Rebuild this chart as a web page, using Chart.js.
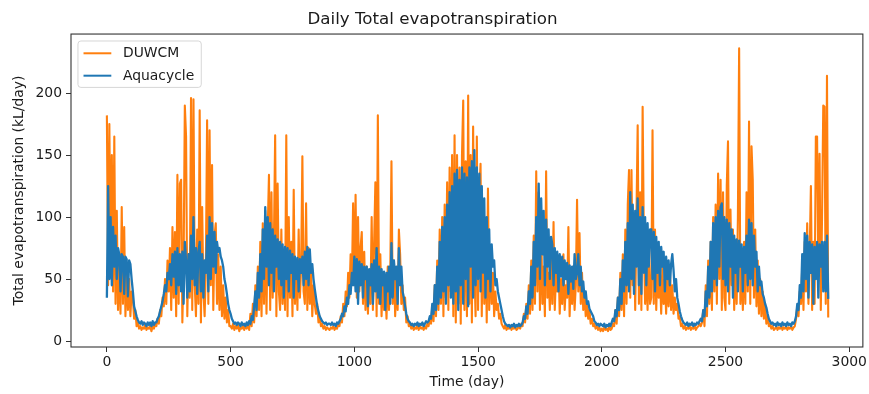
<!DOCTYPE html>
<html><head><meta charset="utf-8">
<script src="https://cdn.jsdelivr.net/npm/chart.js@4"></script>
<style>html,body{margin:0;padding:0;background:#fff;}canvas{display:block;}</style>
</head><body>
<canvas id="c" width="869" height="394"></canvas>
<script>
// ---- data (one value every STEP_DAYS days) ----
const STEP_DAYS = 5;
const SERIES_NAMES = ['DUWCM', 'Aquacycle'];
const DUWCM = [
182,45,175,60,150,40,165,30,105,25,70,22,108,30,92,20,60,25,50,20,
40,35,18,25,12,15,10,12,9,11,10,13,9,11,10,12,8,12,10,14,
12,18,14,25,20,35,28,50,30,65,40,75,25,92,35,88,20,134,30,127,
130,15,60,190,165,20,70,35,196,25,195,45,20,90,30,186,15,108,40,20,
60,178,30,170,45,142,25,85,95,30,70,25,60,20,45,18,35,15,25,12,
12,10,14,9,12,10,13,8,11,10,13,9,12,10,14,9,22,12,30,15,
45,20,60,25,80,20,95,30,105,22,90,134,25,120,35,80,166,20,127,40,
25,90,30,70,25,166,20,100,35,80,20,122,30,65,25,90,35,60,149,40,
30,111,25,75,30,60,20,45,30,22,30,15,20,12,14,10,12,9,11,10,
9,11,10,12,9,11,10,14,12,20,15,30,20,40,28,55,35,70,45,111,
45,118,35,100,40,75,88,30,72,25,60,22,55,30,100,25,80,128,20,182,
30,70,20,55,25,45,18,60,25,50,145,30,65,20,50,25,90,70,30,45,
25,35,15,20,12,14,10,12,9,11,10,13,9,12,10,11,9,12,10,14,
12,18,14,28,16,45,20,65,25,90,30,100,20,110,35,128,25,140,40,150,
20,166,15,150,30,140,14,150,194,25,145,20,198,30,150,15,173,60,20,165,
25,120,143,20,110,30,95,15,123,25,75,30,55,20,40,25,30,18,22,14,
12,10,13,9,11,10,12,9,11,10,12,9,10,12,10,14,12,22,15,30,
18,45,22,65,25,85,30,137,40,120,25,95,30,60,20,137,35,55,25,70,
30,96,25,55,40,65,22,50,30,70,25,45,35,92,20,55,30,60,25,45,
114,40,87,30,55,25,40,20,30,18,25,14,18,12,14,10,12,9,11,8,
10,8,11,9,10,8,12,9,10,14,12,25,14,35,20,55,25,70,20,90,
30,110,138,35,138,45,90,25,100,174,30,120,25,189,80,30,60,25,70,30,
35,170,30,90,25,60,35,55,22,60,30,50,22,55,28,60,25,45,22,35,
25,30,18,20,12,14,10,12,9,11,10,12,9,11,10,13,9,11,12,14,
12,15,25,12,45,20,65,30,80,25,100,40,110,30,135,50,130,25,120,35,
25,125,161,30,106,45,90,25,70,30,100,236,30,60,25,80,30,120,40,177,
30,157,130,35,90,28,65,22,50,20,40,18,30,14,20,12,14,10,12,9,
10,12,9,11,10,13,9,11,10,12,9,11,10,12,9,11,12,18,28,20,
40,30,60,25,80,40,95,30,70,125,25,80,30,165,165,60,151,25,100,190,
189,30,214,19
];
const AQUACYCLE = [
35,125,50,100,45,92,60,85,50,75,70,40,70,68,38,68,66,36,65,62,
50,40,28,24,20,17,15,14,16,13,15,14,12,15,13,15,12,16,13,15,
15,18,20,24,28,32,38,45,40,55,50,62,45,70,52,72,38,75,45,70,
40,72,30,80,65,35,70,40,85,50,100,45,75,38,72,80,40,70,35,65,
55,85,40,100,50,95,60,88,55,80,72,75,68,65,60,50,45,38,30,25,
22,18,16,14,15,13,15,14,12,15,13,14,12,15,13,16,14,20,17,28,
40,25,55,35,70,40,90,50,108,60,100,45,95,55,90,40,85,60,82,50,
80,45,78,35,76,50,75,40,73,55,70,35,68,50,67,40,66,55,68,45,
72,50,76,45,74,55,62,50,42,35,28,24,20,18,16,15,14,15,13,14,
14,13,15,13,14,12,15,14,16,18,22,20,28,24,35,30,45,38,55,45,
68,40,66,30,64,45,62,35,60,50,60,28,58,45,62,30,65,40,75,35,
60,30,58,45,56,25,55,40,60,30,79,35,65,50,60,30,75,45,60,40,
35,28,22,18,16,15,13,14,12,14,13,15,12,14,13,15,12,14,16,15,
16,20,18,30,22,45,25,60,30,80,35,92,40,100,30,110,45,120,35,125,
30,135,40,138,25,130,45,140,30,135,50,132,28,140,60,145,35,154,45,140,
50,135,40,125,55,115,35,100,50,90,40,78,60,65,45,50,40,35,30,25,
20,16,14,13,12,13,11,13,12,14,11,13,12,14,12,13,15,20,18,28,
22,40,30,60,35,80,45,100,60,127,50,115,70,105,45,98,60,90,50,84,
78,45,75,55,72,40,70,52,68,45,65,50,63,38,61,48,60,42,70,50,
55,70,45,60,40,48,35,40,30,32,26,24,22,20,16,15,13,14,12,14,
13,12,14,11,13,12,14,12,15,18,16,25,20,35,25,50,30,65,40,80,
45,95,40,120,50,110,38,105,60,115,45,100,38,108,55,100,45,95,60,90,
90,50,88,40,84,55,80,45,76,60,72,40,68,50,65,45,62,70,57,40,
50,35,30,24,20,17,15,14,13,15,12,14,13,15,12,14,13,15,14,16,
18,16,25,20,40,28,60,35,80,40,95,50,100,45,105,60,108,111,50,100,
45,98,40,95,60,90,35,85,55,82,40,81,60,78,40,76,55,85,45,98,
50,95,45,85,60,72,40,60,45,48,38,35,30,27,22,18,16,14,15,13,
14,12,15,13,14,12,15,13,14,12,15,13,14,12,15,14,16,20,30,25,
45,35,70,40,87,50,85,35,80,55,78,30,76,50,80,35,78,60,80,40,
80,40,85,34
];
const X_TICKS = [0, 500, 1000, 1500, 2000, 2500, 3000];
const Y_TICKS = [0, 50, 100, 150, 200];
const X_RANGE = [-145, 3055];
const Y_RANGE = [-4.8, 247.6];
const COLORS = {DUWCM: '#ff7f0e', Aquacycle: '#1f77b4'};

// ---- chart ----
const FONT = 'DejaVu Sans';
const TEXT = '#1a1a1a';
const toPoints = vals => vals.map((v, i) => ({x: i * STEP_DAYS, y: v}));

const framePlugin = {
  id: 'frame',
  afterDraw(chart) {
    const {ctx, chartArea: a} = chart;
    ctx.save();
    ctx.strokeStyle = '#333';
    ctx.lineWidth = 1.1;
    ctx.strokeRect(a.left, a.top, a.right - a.left, a.bottom - a.top);
    ctx.restore();
  }
};

const legendPlugin = {
  id: 'mplLegend',
  afterDraw(chart) {
    const {ctx, chartArea: a} = chart;
    const fs = 13.9;
    ctx.save();
    ctx.font = fs + 'px "' + FONT + '"';
    const items = SERIES_NAMES.map(n => ({name: n, color: COLORS[n]}));
    const tw = Math.max(...items.map(it => ctx.measureText(it.name).width));
    const pad = 0.4 * fs, handle = 2 * fs, gap = 0.8 * fs, rowH = 22.4;
    const x0 = a.left + 0.5 * fs, y0 = a.top + 0.5 * fs;
    const w = pad + handle + gap + tw + pad + 2;
    const h = pad * 2 + rowH * items.length - 9.5;
    ctx.beginPath();
    if (ctx.roundRect) ctx.roundRect(x0, y0, w, h, 3); else ctx.rect(x0, y0, w, h);
    ctx.fillStyle = 'rgba(255,255,255,0.8)';
    ctx.fill();
    ctx.strokeStyle = 'rgba(204,204,204,0.8)';
    ctx.lineWidth = 1;
    ctx.stroke();
    items.forEach((it, i) => {
      const cy = y0 + 12.3 + i * rowH;
      ctx.beginPath();
      ctx.moveTo(x0 + pad, cy);
      ctx.lineTo(x0 + pad + handle, cy);
      ctx.strokeStyle = it.color;
      ctx.lineWidth = 2;
      ctx.stroke();
      ctx.fillStyle = TEXT;
      ctx.textBaseline = 'middle';
      ctx.textAlign = 'left';
      ctx.fillText(it.name, x0 + pad + handle + gap + 0.5, cy + 0.5);
    });
    ctx.restore();
  }
};

const tickFont = {family: FONT, size: 13.9};
new Chart(document.getElementById('c'), {
  type: 'line',
  data: {
    datasets: [
      {label: 'Aquacycle', data: toPoints(AQUACYCLE), borderColor: COLORS.Aquacycle,
       borderWidth: 2.3, pointRadius: 0, tension: 0, borderJoinStyle: 'round', fill: false},
      {label: 'DUWCM', data: toPoints(DUWCM), borderColor: COLORS.DUWCM,
       borderWidth: 2.1, pointRadius: 0, tension: 0, borderJoinStyle: 'round', fill: false}
    ]
  },
  options: {
    responsive: false,
    devicePixelRatio: 1,
    animation: false,
    events: [],
    layout: {padding: {left: 0, right: 4, top: 0, bottom: 0}},
    plugins: {
      legend: {display: false},
      tooltip: {enabled: false},
      title: {display: true, text: 'Daily Total evapotranspiration', color: TEXT,
              font: {family: FONT, size: 16.7, weight: 'normal'}, padding: {top: 10, bottom: 4}}
    },
    scales: {
      x: {
        type: 'linear', min: X_RANGE[0], max: X_RANGE[1],
        afterBuildTicks: s => { s.ticks = X_TICKS.map(v => ({value: v})); },
        afterFit: s => { s.height = 47; },
        ticks: {color: TEXT, font: tickFont, padding: 2, maxRotation: 0, autoSkip: false,
                callback: v => String(v)},
        grid: {display: true, drawOnChartArea: false, drawTicks: true, tickLength: 5,
               tickColor: '#333', tickWidth: 1},
        border: {display: false},
        title: {display: true, text: 'Time (day)', color: TEXT,
                font: {family: FONT, size: 13.9}, padding: {top: 0, bottom: 3.6}}
      },
      y: {
        type: 'linear', min: Y_RANGE[0], max: Y_RANGE[1],
        afterBuildTicks: s => { s.ticks = Y_TICKS.map(v => ({value: v})); },
        afterFit: s => { s.width = 71; },
        ticks: {color: TEXT, font: tickFont, padding: 4, callback: v => String(v)},
        grid: {display: true, drawOnChartArea: false, drawTicks: true, tickLength: 5,
               tickColor: '#333', tickWidth: 1},
        border: {display: false},
        title: {display: true, text: 'Total evapotranspiration (kL/day)', color: TEXT,
                font: {family: FONT, size: 13.9}, padding: {top: 10.6, bottom: 0}}
      }
    }
  },
  plugins: [framePlugin, legendPlugin]
});
</script>
</body></html>
